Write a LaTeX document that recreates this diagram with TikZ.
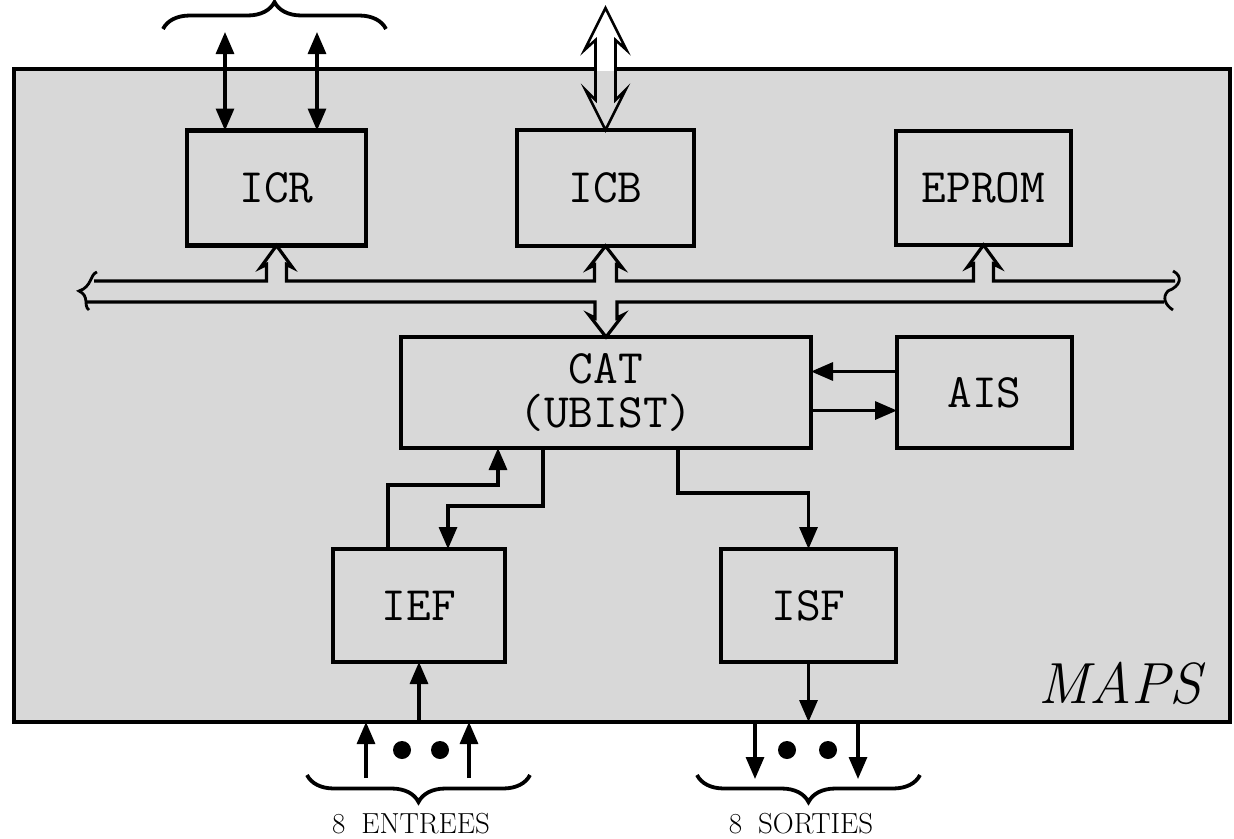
\documentclass[tikz,border=0pt]{standalone}
\usepackage{fontspec}
\usetikzlibrary{arrows.meta,calc,decorations.pathreplacing}
\definecolor{panel}{RGB}{216,216,216}
\newcommand\labfont{\fontsize{29}{32}\selectfont\addfontfeature{LetterSpace=8}}
\begin{document}
\begin{tikzpicture}[x=1pt,y=-1pt,
  box/.style={draw,line width=4.5pt,fill=panel,outer sep=0pt,font=\ttfamily\fontsize{48}{44}\selectfont,align=center,inner sep=0pt},
  conn/.style={line width=3.2pt},
  bus/.style={line width=3.2pt,line join=miter},
  brc/.style={line width=3.8pt,decorate,decoration={brace,amplitude=27pt,aspect=0.5}},
  lab/.style={inner sep=0pt},
  >={Triangle[length=22pt,width=18pt]}]
\useasboundingbox (0,0) rectangle (1234,838);
% frame
\draw[line width=4.5pt,fill=panel] (14,69) rectangle (1230,722);
\coordinate (fb) at (0,722);
\coordinate (bu) at (0,281);
\coordinate (bl) at (0,302);
% boxes
\node[box,minimum width=179pt,minimum height=115pt] (icr) at (276.5,188) {ICR};
\node[box,minimum width=177pt,minimum height=116pt] (icb) at (605.5,188) {ICB};
\node[box,minimum width=175pt,minimum height=114pt] (eprom) at (983.5,188) {EPROM};
\node[box,minimum width=410pt,minimum height=111pt] (cat) at (606,392.5) {CAT\\(UBIST)};
\node[box,minimum width=175pt,minimum height=111pt] (ais) at (984.5,392.5) {AIS};
\node[box,minimum width=172pt,minimum height=113pt] (ief) at (419,605.5) {IEF};
\node[box,minimum width=175pt,minimum height=113pt] (isf) at (808.5,605.5) {ISF};
\node[font=\itshape\fontsize{58}{60}\selectfont,anchor=base] (maps) at (1120,703) {MAPS};
% bus upper line with branches
\coordinate (lbU) at (94,281);
\coordinate (rbU) at (1175,281);
\coordinate (lbL) at (86,302);
\coordinate (rbL) at (1164,302);
\draw[bus] (lbU)
 -- ($(icr.south |- bu)+(-10,0)$) -- ($(icr.south)+(-10,19)$) -- ($(icr.south)+(-16,22)$) -- (icr.south)
 -- ($(icr.south)+(16,22)$) -- ($(icr.south)+(10,19)$) -- ($(icr.south |- bu)+(10,0)$)
 -- ($(icb.south |- bu)+(-11,0)$) -- ($(icb.south)+(-11,19)$) -- ($(icb.south)+(-17,22)$) -- (icb.south)
 -- ($(icb.south)+(17,22)$) -- ($(icb.south)+(11,19)$) -- ($(icb.south |- bu)+(11,0)$)
 -- ($(eprom.south |- bu)+(-10,0)$) -- ($(eprom.south)+(-10,19)$) -- ($(eprom.south)+(-16,22)$) -- (eprom.south)
 -- ($(eprom.south)+(16,22)$) -- ($(eprom.south)+(10,19)$) -- ($(eprom.south |- bu)+(10,0)$)
 -- (rbU);
\draw[bus] (lbL)
 -- ($(cat.north |- bl)+(-11,0)$) -- ($(cat.north)+(-11,-19)$) -- ($(cat.north)+(-17,-22)$) -- (cat.north)
 -- ($(cat.north)+(17,-22)$) -- ($(cat.north)+(11,-19)$) -- ($(cat.north |- bl)+(11,0)$)
 -- (rbL);
% bus end braces
\draw[line width=2.8pt] (97,272) .. controls (90,274) and (92,287) .. (79,291) .. controls (90,296) and (83,306) .. (89,310);
\draw[line width=2.8pt] (1173,271) .. controls (1183,276) and (1181,286) .. (1168,291) .. controls (1162,297) and (1165,305) .. (1173,310);
% ICB top hollow double arrow
\coordinate (icbtop) at (605.5,8);
\begin{scope}
\path[fill=white] (icbtop) -- ($(icbtop)+(-21,42)$) -- ($(icbtop)+(-10,32)$) -- ($(icb.north)+(-10,-30)$) -- ($(icb.north)+(-20,-40)$) -- (icb.north) -- ($(icb.north)+(20,-40)$) -- ($(icb.north)+(10,-30)$) -- ($(icbtop)+(10,32)$) -- ($(icbtop)+(21,42)$) -- cycle;
\clip (16,71) rectangle (1228,720);
\path[fill=panel] (icbtop) -- ($(icbtop)+(-21,42)$) -- ($(icbtop)+(-10,32)$) -- ($(icb.north)+(-10,-30)$) -- ($(icb.north)+(-20,-40)$) -- (icb.north) -- ($(icb.north)+(20,-40)$) -- ($(icb.north)+(10,-30)$) -- ($(icbtop)+(10,32)$) -- ($(icbtop)+(21,42)$) -- cycle;
\end{scope}
\draw[line width=2.6pt,line join=miter] (icbtop) -- ($(icbtop)+(-21,42)$) -- ($(icbtop)+(-10,32)$) -- ($(icb.north)+(-10,-30)$) -- ($(icb.north)+(-20,-40)$) -- (icb.north) -- ($(icb.north)+(20,-40)$) -- ($(icb.north)+(10,-30)$) -- ($(icbtop)+(10,32)$) -- ($(icbtop)+(21,42)$) -- cycle;
% ICR double arrows and brace
\coordinate (r1) at (225,32);
\coordinate (r2) at (317,32);
\draw[conn,<->] (r1) -- (r1 |- icr.north);
\draw[conn,<->] (r2) -- (r2 |- icr.north);
\coordinate (tb1) at (163,29);
\coordinate (tb2) at (386,29);
\draw[brc] (tb1) -- (tb2);
% CAT <-> AIS
\draw[conn,->] ($(ais.west)+(0,-21)$) -- ($(cat.east)+(0,-21)$);
\draw[conn,->] ($(cat.east)+(0,18)$) -- ($(ais.west)+(0,18)$);
% CAT <-> IEF, CAT -> ISF
\draw[conn,->] ($(ief.north west)+(55,0)$) |- ($(cat.south west)+(97,37)$) -- ($(cat.south west)+(97,0)$);
\draw[conn,->] ($(cat.south west)+(142,0)$) -- ($(cat.south west)+(142,58)$) -| ($(ief.north west)+(115,0)$);
\draw[conn,->] ($(cat.south west)+(277,0)$) |- ($(isf.north)+(0,-56)$) -- (isf.north);
% IEF input, ISF output
\draw[conn,->] (ief.south |- fb) -- (ief.south);
\draw[conn,->] (isf.south) -- (isf.south |- fb);
% entries
\coordinate (e1) at (366,778);
\coordinate (e2) at (469,778);
\draw[conn,->] (e1) -- (e1 |- fb);
\draw[conn,->] (e2) -- (e2 |- fb);
\fill (402,750) circle (9pt);
\fill (440,750) circle (9pt);
\draw[brc] (530,775) -- (307,775);
\node[lab] (ent) at (411,824) {\labfont 8\hspace{16pt}ENTREES};
% sorties
\coordinate (s1) at (755,724);
\coordinate (s2) at (858,724);
\draw[conn,->] (s1) -- ($(s1)+(0,55)$);
\draw[conn,->] (s2) -- ($(s2)+(0,55)$);
\fill (787,750) circle (9pt);
\fill (828,750) circle (9pt);
\draw[brc] (920,775) -- (697,775);
\node[lab] (sor) at (801,824) {\labfont 8\hspace{16pt}SORTIES};
\end{tikzpicture}
\end{document}
